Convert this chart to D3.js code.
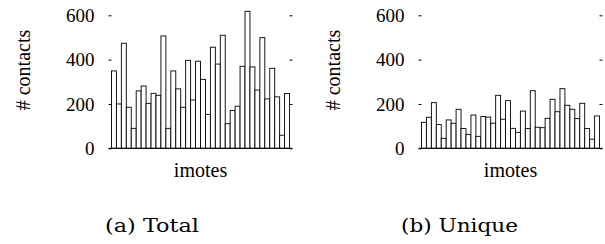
<!DOCTYPE html>
<html>
<head>
<meta charset="utf-8">
<script src="https://cdn.jsdelivr.net/npm/d3@7"></script>
<style>
  body { margin: 0; background: white; }
  svg { display: block; }
</style>
</head>
<body>
<div id="chart"></div>
<script>
// per-imote contact counts
const imotes = d3.range(36);
const totalContacts = [349, 200, 474, 185, 90, 259, 281, 203, 248, 239, 507, 90, 349, 268, 185, 397, 218, 393,
    311, 153, 456, 380, 510, 111, 171, 190, 370, 618, 367, 263, 499, 223, 361, 232, 59, 247];
const uniqueContacts = [117, 140, 206, 107, 45, 128, 113, 176, 89, 63, 150, 54, 143, 141, 113, 239, 131, 215,
    90, 72, 168, 89, 260, 95, 93, 135, 221, 165, 269, 194, 176, 134, 203, 89, 41, 146];
const yTicks = [0, 200, 400, 600];

// caption centre / width are relative to each panel
const panels = [
    {values: totalContacts, caption: "(a) Total", offset: 0, capX: 152, capW: 94},
    {values: uniqueContacts, caption: "(b) Unique", offset: 310, capX: 149.5, capW: 117},
];

const width = 605;
const height = 244;

const pl = 108.5;
const pt = 15.3;
const graphWidth = 184;
const graphHeight = 133;

const plotFont = "Times New Roman";
const captionFont = "DejaVu Serif";

const xScale = d3.scaleBand().domain(imotes).range([0, graphWidth]).paddingInner(0).paddingOuter(0.6);
const yScale = d3.scaleLinear().domain([0, 600]).range([graphHeight, 0]);

const svg = d3.select("#chart").append("svg")
    .attr("width", width)
    .attr("height", height)
    .attr("viewBox", `0 0 ${width} ${height}`)
    .attr("font-family", plotFont);

panels.forEach(p => {
    const panel = svg.append("g").attr("transform", `translate(${p.offset}, 0)`);
    const plot = panel.append("g").attr("transform", `translate(${pl}, ${pt})`);

    plot.selectAll("rect.bar")
        .data(p.values)
        .enter()
        .append("rect")
        .attr("class", "bar")
        .attr("x", (d, i) => xScale(i))
        .attr("y", d => yScale(d))
        .attr("width", xScale.bandwidth())
        .attr("height", d => graphHeight - yScale(d))
        .attr("fill", "white")
        .attr("stroke", "#000")
        .attr("stroke-width", 0.9);

    // left axis: inward ticks + labels, no spine
    const left = plot.append("g")
        .call(d3.axisLeft(yScale).tickValues(yTicks).tickSize(-3).tickPadding(14))
        .attr("font-family", plotFont)
        .attr("font-size", 19);
    left.select(".domain").remove();

    // mirrored ticks on the right
    const right = plot.append("g")
        .attr("transform", `translate(${graphWidth}, 0)`)
        .call(d3.axisRight(yScale).tickValues(yTicks).tickSize(-3).tickFormat(""));
    right.select(".domain").remove();

    // baseline
    plot.append("line")
        .attr("x1", 0)
        .attr("x2", graphWidth)
        .attr("y1", graphHeight)
        .attr("y2", graphHeight)
        .attr("stroke", "#000");

    panel.append("text")
        .attr("transform", "translate(30, 70) rotate(-90)")
        .attr("text-anchor", "middle")
        .attr("font-size", 20)
        .text("# contacts");

    panel.append("text")
        .attr("x", pl + graphWidth / 2)
        .attr("y", 176.7)
        .attr("text-anchor", "middle")
        .attr("font-size", 20)
        .text("imotes");

    panel.append("text")
        .attr("x", p.capX - p.capW / 2)
        .attr("y", 231.7)
        .attr("textLength", p.capW)
        .attr("lengthAdjust", "spacingAndGlyphs")
        .attr("font-family", captionFont)
        .attr("font-size", 19)
        .text(p.caption);
});
</script>
</body>
</html>
